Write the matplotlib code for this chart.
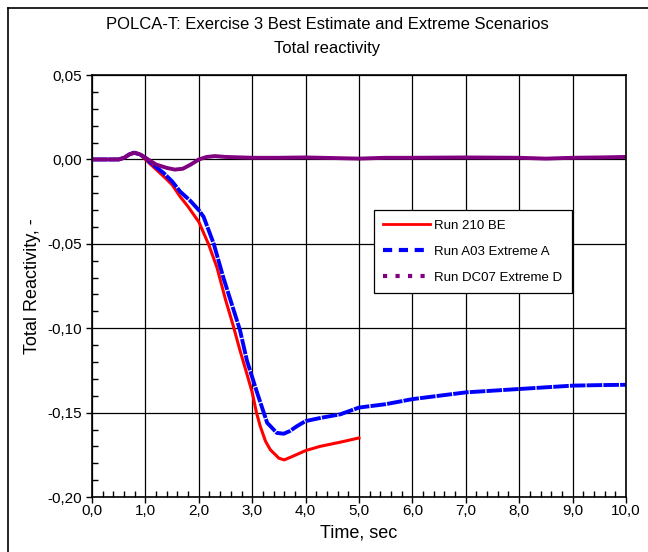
import matplotlib
matplotlib.use("Agg")
import matplotlib.pyplot as plt
from matplotlib.lines import Line2D
from matplotlib.ticker import MultipleLocator, FuncFormatter

plt.rcParams['font.family'] = ['Liberation Sans', 'DejaVu Sans']

# Run 210 BE
t_be = [0.0, 0.5, 0.6, 0.7, 0.78, 0.9, 1.0, 1.1, 1.34, 1.5, 1.65, 1.8, 2.0, 2.18, 2.34,
        2.5, 2.64, 2.77, 2.9, 3.0, 3.08, 3.15, 3.25, 3.34, 3.5, 3.6, 3.75, 4.0, 4.27,
        4.65, 5.0]
r_be = [0.0, 0.0, 0.001, 0.003, 0.004, 0.003, 0.0, -0.003, -0.010, -0.015, -0.022, -0.028,
        -0.037, -0.050, -0.064, -0.083, -0.098, -0.113, -0.127, -0.138, -0.150, -0.158,
        -0.167, -0.172, -0.177, -0.178, -0.176, -0.1725, -0.170, -0.1675, -0.165]

# Run A03 Extreme A
t_a = [0.0, 0.5, 0.6, 0.7, 0.78, 0.9, 1.0, 1.1, 1.34, 1.5, 1.65, 1.84, 2.0, 2.09, 2.28,
       2.46, 2.62, 2.77, 2.9, 3.09, 3.28, 3.46, 3.59, 3.7, 3.84, 4.0, 4.3, 4.65, 5.0,
       5.5, 6.0, 6.5, 7.0, 7.5, 8.0, 8.5, 9.0, 9.5, 10.0]
r_a = [0.0, 0.0, 0.001, 0.003, 0.004, 0.003, 0.001, -0.002, -0.008, -0.013, -0.019,
       -0.0245, -0.030, -0.034, -0.050, -0.070, -0.086, -0.101, -0.119, -0.138, -0.156,
       -0.162, -0.1625, -0.161, -0.158, -0.155, -0.153, -0.151, -0.147, -0.145, -0.142,
       -0.140, -0.138, -0.137, -0.136, -0.135, -0.134, -0.1337, -0.1335]

# Run DC07 Extreme D
t_d = [0.0, 0.5, 0.6, 0.7, 0.8, 0.9, 1.0, 1.2, 1.4, 1.55, 1.7, 1.85, 2.0, 2.15, 2.3,
       2.5, 3.0, 3.5, 4.0, 5.0, 5.5, 6.0, 7.0, 8.0, 8.5, 9.0, 9.5, 10.0]
r_d = [0.0, 0.0, 0.001, 0.003, 0.004, 0.003, 0.001, -0.003, -0.005, -0.006, -0.0055,
       -0.003, 0.0, 0.0015, 0.002, 0.0015, 0.001, 0.001, 0.0012, 0.0005, 0.001, 0.001,
       0.0012, 0.001, 0.0005, 0.001, 0.0012, 0.0015]

fig = plt.figure(figsize=(6.48, 5.52), dpi=100)
ax = fig.add_axes([0.142, 0.0996, 0.824, 0.7644])

# Rahmen der Abbildung (nur links und oben sichtbar)
fig.add_artist(Line2D([0.013, 0.013], [0.0, 0.986], color='black', lw=1.2, transform=fig.transFigure))
fig.add_artist(Line2D([0.013, 1.0], [0.986, 0.986], color='black', lw=1.2, transform=fig.transFigure))

ax.plot(t_be, r_be, color='red', lw=2.2)
ax.plot(t_a, r_a, color='blue', lw=2.8, linestyle=(0, (4, 0.3)))
ax.plot(t_d, r_d, color='purple', lw=2.8)

ax.set_xlim(0, 10)
ax.set_ylim(-0.20, 0.05)
ax.xaxis.set_major_locator(MultipleLocator(1))
ax.xaxis.set_minor_locator(MultipleLocator(0.2))
ax.yaxis.set_major_locator(MultipleLocator(0.05))
ax.yaxis.set_minor_locator(MultipleLocator(0.01))
ax.xaxis.set_major_formatter(FuncFormatter(lambda v, p: f"{v:.1f}".replace('.', ',')))
ax.yaxis.set_major_formatter(FuncFormatter(lambda v, p: f"{v:.2f}".replace('.', ',')))
ax.tick_params(which='major', direction='out', length=4, labelsize=11, width=1)
ax.tick_params(axis='x', which='major', pad=1)
ax.tick_params(which='minor', direction='in', length=4, width=1)
ax.grid(True, which='major', color='black', lw=0.9)
for s in ax.spines.values():
    s.set_linewidth(1.2)

ax.set_xlabel('Time, sec', fontsize=13, labelpad=5)
ax.set_ylabel('Total Reactivity, -', fontsize=13)
fig.text(0.505, 0.955, 'POLCA-T: Exercise 3 Best Estimate and Extreme Scenarios', ha='center', va='center', fontsize=12)
fig.text(0.505, 0.913, 'Total reactivity', ha='center', va='center', fontsize=12)

handles = [Line2D([], [], color='red', lw=2),
           Line2D([], [], color='blue', lw=3, linestyle=(0, (2.2, 1.6))),
           Line2D([], [], color='purple', lw=3, linestyle=(0, (1, 2)))]
labels = ['Run 210 BE', 'Run A03 Extreme A', 'Run DC07 Extreme D']
leg = ax.legend(handles, labels, loc='upper left', bbox_to_anchor=(0.515, 0.695), fontsize=9.5,
                frameon=True, fancybox=False, edgecolor='black', framealpha=1,
                handlelength=3.6, labelspacing=1.05, borderpad=0.7, handletextpad=0.3)
leg.get_frame().set_linewidth(0.9)

fig.savefig('out.png', dpi=100)
